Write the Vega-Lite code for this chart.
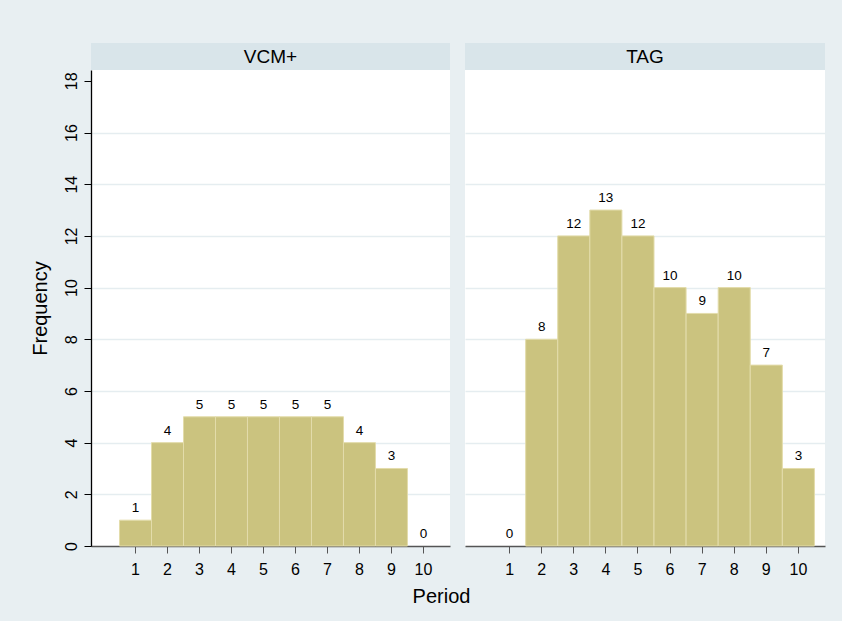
{
  "$schema": "https://vega.github.io/schema/vega-lite/v6.json",
  "background": "#e8eff2",
  "padding": {"left": 30, "top": 43, "right": 17, "bottom": 15},
  "spacing": 15,
  "title": {
    "text": "Period",
    "orient": "bottom",
    "anchor": "middle",
    "frame": "bounds",
    "fontSize": 20,
    "fontWeight": "normal",
    "color": "black",
    "offset": 10,
    "dx": 14
  },
  "data": {
    "values": [
      {"panel": "VCM+", "period": 1, "freq": 1},
      {"panel": "VCM+", "period": 2, "freq": 4},
      {"panel": "VCM+", "period": 3, "freq": 5},
      {"panel": "VCM+", "period": 4, "freq": 5},
      {"panel": "VCM+", "period": 5, "freq": 5},
      {"panel": "VCM+", "period": 6, "freq": 5},
      {"panel": "VCM+", "period": 7, "freq": 5},
      {"panel": "VCM+", "period": 8, "freq": 4},
      {"panel": "VCM+", "period": 9, "freq": 3},
      {"panel": "VCM+", "period": 10, "freq": 0},
      {"panel": "TAG", "period": 1, "freq": 0},
      {"panel": "TAG", "period": 2, "freq": 8},
      {"panel": "TAG", "period": 3, "freq": 12},
      {"panel": "TAG", "period": 4, "freq": 13},
      {"panel": "TAG", "period": 5, "freq": 12},
      {"panel": "TAG", "period": 6, "freq": 10},
      {"panel": "TAG", "period": 7, "freq": 9},
      {"panel": "TAG", "period": 8, "freq": 10},
      {"panel": "TAG", "period": 9, "freq": 7},
      {"panel": "TAG", "period": 10, "freq": 3}
    ]
  },
  "hconcat": [
    {
      "spacing": 0,
      "vconcat": [
        {
          "width": 359,
          "height": 27,
          "view": {"fill": "#d9e5ea", "stroke": null},
          "data": {"values": [{"label": "VCM+"}]},
          "mark": {"type": "text", "fontSize": 19, "baseline": "middle", "color": "black"},
          "encoding": {"text": {"field": "label", "type": "nominal"}}
        },
        {
          "width": 359,
          "height": 476,
          "transform": [{"filter": "datum.panel === 'VCM+'"}],
          "encoding": {
            "x": {
              "field": "period",
              "type": "ordinal",
              "scale": {"type": "band", "paddingInner": 0, "paddingOuter": 0.61, "align": 0.73},
              "axis": {"title": null}
            },
            "y": {
              "field": "freq",
              "type": "quantitative",
              "scale": {"domain": [0, 18.42], "nice": false},
              "axis": {
                "values": [0, 2, 4, 6, 8, 10, 12, 14, 16, 18],
                "title": "Frequency",
                "titleX": -45,
                "titleY": 238,
                "titleBaseline": "alphabetic",
                "labelAngle": -90,
                "labelAlign": "center",
                "labelBaseline": "bottom",
                "labelPadding": 5,
                "tickSize": 7,
                "tickColor": "black",
                "domainColor": "black",
                "domainWidth": 1.3,
                "grid": true,
                "gridOpacity": {"condition": {"test": "datum.value === 0 || datum.value === 18", "value": 0}, "value": 1}
              }
            }
          },
          "layer": [
            {
              "transform": [{"filter": "datum.freq > 0"}],
              "mark": {"type": "bar", "fill": "#cbc37f", "stroke": "#e3dcab", "strokeWidth": 1}
            },
            {
              "mark": {"type": "text", "fontSize": 13.5, "dy": -8, "baseline": "alphabetic", "color": "black"},
              "encoding": {"text": {"field": "freq", "type": "quantitative"}}
            }
          ]
        }
      ]
    },
    {
      "spacing": 0,
      "vconcat": [
        {
          "width": 360,
          "height": 27,
          "view": {"fill": "#d9e5ea", "stroke": null},
          "data": {"values": [{"label": "TAG"}]},
          "mark": {"type": "text", "fontSize": 19, "baseline": "middle", "color": "black"},
          "encoding": {"text": {"field": "label", "type": "nominal"}}
        },
        {
          "width": 360,
          "height": 476,
          "transform": [{"filter": "datum.panel === 'TAG'"}],
          "encoding": {
            "x": {
              "field": "period",
              "type": "ordinal",
              "scale": {"type": "band", "paddingInner": 0, "paddingOuter": 0.61, "align": 0.73},
              "axis": {"title": null}
            },
            "y": {
              "field": "freq",
              "type": "quantitative",
              "scale": {"domain": [0, 18.42], "nice": false},
              "axis": {
                "values": [0, 2, 4, 6, 8, 10, 12, 14, 16, 18],
                "title": null,
                "labels": false,
                "ticks": false,
                "domain": false,
                "grid": true,
                "gridOpacity": {"condition": {"test": "datum.value === 0 || datum.value === 18", "value": 0}, "value": 1}
              }
            }
          },
          "layer": [
            {
              "transform": [{"filter": "datum.freq > 0"}],
              "mark": {"type": "bar", "fill": "#cbc37f", "stroke": "#e3dcab", "strokeWidth": 1}
            },
            {
              "mark": {"type": "text", "fontSize": 13.5, "dy": -8, "baseline": "alphabetic", "color": "black"},
              "encoding": {"text": {"field": "freq", "type": "quantitative"}}
            }
          ]
        }
      ]
    }
  ],
  "config": {
    "font": "Liberation Sans",
    "view": {"fill": "white", "stroke": null},
    "axis": {
      "labelFontSize": 16,
      "labelColor": "black",
      "titleFontSize": 20,
      "titleFontWeight": "normal",
      "titleColor": "black",
      "gridColor": "#e5edf0",
      "gridWidth": 1.3
    },
    "axisX": {
      "labelAngle": 0,
      "labelPadding": 8,
      "tickSize": 7,
      "tickColor": "#555555",
      "domainColor": "#555555",
      "domainWidth": 1.3,
      "grid": false
    }
  }
}
